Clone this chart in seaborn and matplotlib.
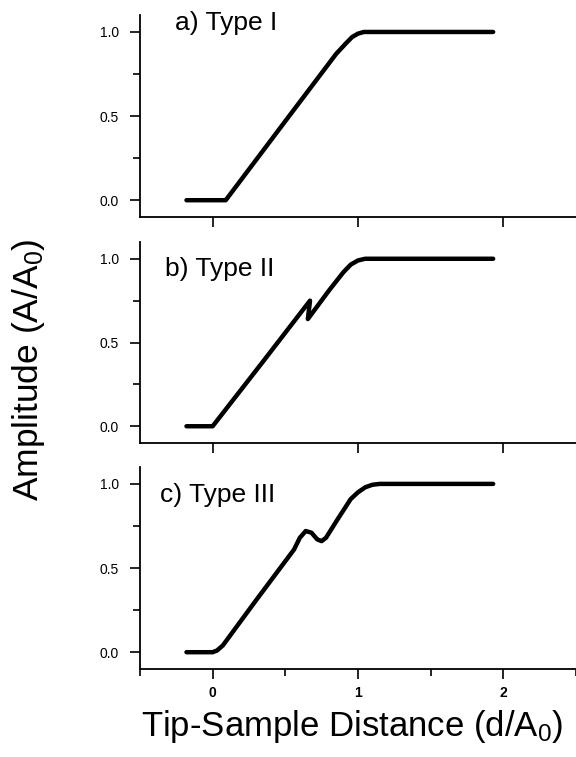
import numpy as np
import pandas as pd
import matplotlib
matplotlib.use("Agg")
import matplotlib.pyplot as plt
import seaborn as sns
from matplotlib.ticker import MultipleLocator

sns.set_theme(style="ticks")
plt.rcParams['font.family'] = ['Liberation Sans', 'DejaVu Sans']
plt.rcParams['mathtext.default'] = 'regular'

# curves: tip-sample distance vs amplitude
x_a = [-0.18, 0.09, 0.50, 0.85, 0.92, 0.96, 1.00, 1.04, 1.08, 1.93]
y_a = [0.0, 0.0, 0.47, 0.87, 0.935, 0.97, 0.99, 1.0, 1.0, 1.0]

x_b = [-0.18, 0.00, 0.35, 0.67, 0.655, 0.80, 0.90, 0.95, 1.00, 1.05, 1.08, 1.93]
y_b = [0.0, 0.0, 0.39, 0.75, 0.64, 0.81, 0.92, 0.965, 0.99, 1.0, 1.0, 1.0]

x_c = [-0.18, 0.00, 0.03, 0.07, 0.30, 0.56, 0.60, 0.64, 0.68, 0.72, 0.75, 0.78,
       0.86, 0.95, 1.00, 1.05, 1.10, 1.15, 1.93]
y_c = [0.0, 0.0, 0.01, 0.04, 0.31, 0.61, 0.68, 0.72, 0.71, 0.67, 0.66, 0.68,
       0.79, 0.91, 0.95, 0.98, 0.995, 1.0, 1.0]

labels = ['a) Type I', 'b) Type II', 'c) Type III']
label_pos = [(-0.26, 1.012), (-0.33, 0.90), (-0.365, 0.895)]
curves = [(x_a, y_a), (x_b, y_b), (x_c, y_c)]

fig = plt.figure(figsize=(5.76, 7.57), dpi=100)
boxes = [(0.243, 0.7133, 0.757, 0.2667),
         (0.243, 0.4148, 0.757, 0.2655),
         (0.243, 0.1162, 0.757, 0.2668)]

for i, ((xs, ys), box) in enumerate(zip(curves, boxes)):
    ax = fig.add_axes(box)
    df = pd.DataFrame({'d': xs, 'amp': ys})
    sns.lineplot(data=df, x='d', y='amp', ax=ax, sort=False, estimator=None,
                 color='black', lw=3.2, solid_capstyle='round', solid_joinstyle='round')
    ax.set_xlim(-0.5, 2.5)
    ax.set_ylim(-0.1, 1.1)
    ax.set_xlabel('')
    ax.set_ylabel('')
    sns.despine(ax=ax)
    for s in ['left', 'bottom']:
        ax.spines[s].set_linewidth(1.3)
        ax.spines[s].set_color('black')
    ax.yaxis.set_minor_locator(MultipleLocator(0.25))
    ax.set_yticks([0.0, 0.5, 1.0])
    ax.set_yticklabels(['0.0', '0.5', '1.0'])
    ax.set_xticks([0, 1, 2])
    ax.tick_params(axis='both', which='major', direction='out', length=7, width=1.2,
                   color='black', labelsize=10, labelcolor='black')
    ax.tick_params(axis='y', which='minor', direction='out', length=5, width=1.2, color='black')
    ax.tick_params(axis='y', which='major', pad=8)
    ax.text(label_pos[i][0], label_pos[i][1], labels[i], fontsize=19,
            va='baseline', ha='left', color='black')
    if i < 2:
        ax.set_xticklabels([])
    else:
        ax.xaxis.set_minor_locator(MultipleLocator(0.5))
        ax.tick_params(axis='x', which='minor', direction='out', length=5, width=1.2, color='black')
        ax.set_xticklabels(['0', '1', '2'], fontweight='bold')
        ax.tick_params(axis='x', which='major', pad=5)
        ax.set_xlabel('Tip-Sample Distance (d/A$_0$)', fontsize=25, color='black')
        ax.xaxis.set_label_coords(0.486, -0.195)

fig.text(0.05, 0.512, 'Amplitude (A/A$_0$)', rotation=90, fontsize=25.5,
         va='center', ha='center', color='black')

fig.savefig('out.png', dpi=100, facecolor='white')
